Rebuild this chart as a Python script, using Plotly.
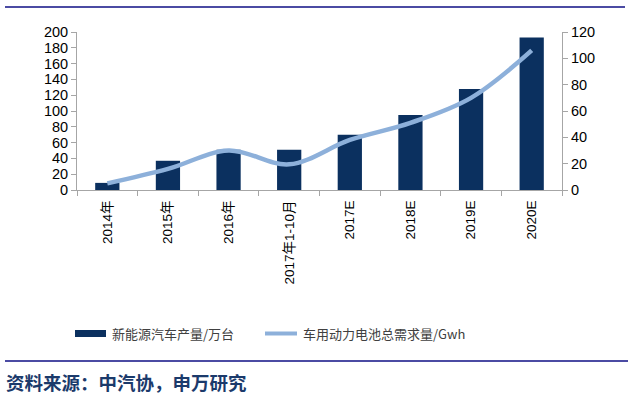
import plotly.graph_objects as go

categories = ["2014年", "2015年", "2016年", "2017年1-10月", "2017E", "2018E", "2019E", "2020E"]
nev_output = [9, 37, 51, 51, 70, 95, 128, 193]          # 新能源汽车产量/万台 (left axis)
battery_demand = [5, 16, 30, 19.5, 38, 51, 70, 106]     # 车用动力电池总需求量/Gwh (right axis)
left_ticks = list(range(0, 201, 20))
right_ticks = list(range(0, 121, 20))

BAR_COLOR = "#0B305F"
LINE_COLOR = "#8DB0DA"
AXIS_COLOR = "#A6A6A6"
RULE_COLOR = "#4B4BA3"

fig = go.Figure()
fig.add_trace(go.Bar(x=categories, y=nev_output, name="新能源汽车产量/万台",
                     marker=dict(color=BAR_COLOR, line=dict(width=0)), yaxis="y"))
fig.add_trace(go.Scatter(x=categories, y=battery_demand, name="车用动力电池总需求量/Gwh",
                         mode="lines", line=dict(color=LINE_COLOR, width=4.5, shape="spline", smoothing=1.0),
                         yaxis="y2"))

tick_font = dict(family="Liberation Sans, Arial, sans-serif", size=14.5, color="#000000")

W, H = 640, 396
ML, MR, MT, MB = 77, 78, 32, 206

fig.update_layout(
    width=W, height=H,
    margin=dict(l=ML, r=MR, t=MT, b=MB, autoexpand=False),
    paper_bgcolor="white", plot_bgcolor="white",
    showlegend=False,
    bargap=0.6,
    xaxis=dict(type="category", showline=True, linecolor=AXIS_COLOR, linewidth=1,
               ticks="outside", tickson="boundaries", ticklen=5, tickcolor=AXIS_COLOR,
               tickangle=-90, showgrid=False, ticklabelstandoff=4,
               tickfont=dict(family="Liberation Sans, Arial, Noto Sans CJK SC, sans-serif", size=13.5, color="#000000")),
    yaxis=dict(range=[0, 200], tickvals=left_ticks, showline=True, linecolor=AXIS_COLOR, linewidth=1,
               ticks="outside", ticklen=5, tickcolor=AXIS_COLOR, showgrid=False, zeroline=False,
               tickfont=tick_font),
    yaxis2=dict(range=[0, 120], tickvals=right_ticks, overlaying="y", side="right",
                showline=True, linecolor=AXIS_COLOR, linewidth=1,
                ticks="outside", ticklen=5, tickcolor=AXIS_COLOR, showgrid=False, zeroline=False,
                tickfont=tick_font),
)

# helpers: figure-pixel coords -> paper coords (paper domain = plot area)
pw, ph = W - ML - MR, H - MT - MB
def fx(x):
    return (x - ML) / pw
def fy(y):
    return (H - MB - y) / ph

shapes = [
    dict(type="line", xref="paper", yref="paper", x0=fx(5), x1=fx(625), y0=fy(7), y1=fy(7),
         line=dict(color=RULE_COLOR, width=2)),
    dict(type="line", xref="paper", yref="paper", x0=fx(5), x1=fx(628), y0=fy(361), y1=fy(361),
         line=dict(color=RULE_COLOR, width=2)),
    dict(type="rect", xref="paper", yref="paper", x0=fx(75), x1=fx(106), y0=fy(337), y1=fy(330),
         fillcolor=BAR_COLOR, line=dict(width=0)),
    dict(type="line", xref="paper", yref="paper", x0=fx(265), x1=fx(297), y0=fy(333.5), y1=fy(333.5),
         line=dict(color=LINE_COLOR, width=4)),
]
legend_font = dict(family="Noto Sans CJK SC, sans-serif", size=13, color="#404040")
annotations = [
    dict(xref="paper", yref="paper", x=fx(110), y=fy(333.5), text="新能源汽车产量/万台",
         showarrow=False, xanchor="left", yanchor="middle", font=legend_font),
    dict(xref="paper", yref="paper", x=fx(301), y=fy(333.5), text="车用动力电池总需求量/Gwh",
         showarrow=False, xanchor="left", yanchor="middle", font=legend_font),
    dict(xref="paper", yref="paper", x=fx(4), y=fy(382), text="<b>资料来源：中汽协，申万研究</b>",
         showarrow=False, xanchor="left", yanchor="middle",
         font=dict(family="Noto Sans CJK SC, sans-serif", size=18.5, color="#1B3A6B")),
]
fig.update_layout(shapes=shapes, annotations=annotations)

fig.write_html("out.html", config={"displayModeBar": False},
               post_script="document.body.style.margin='0px';document.body.style.overflow='hidden';")
